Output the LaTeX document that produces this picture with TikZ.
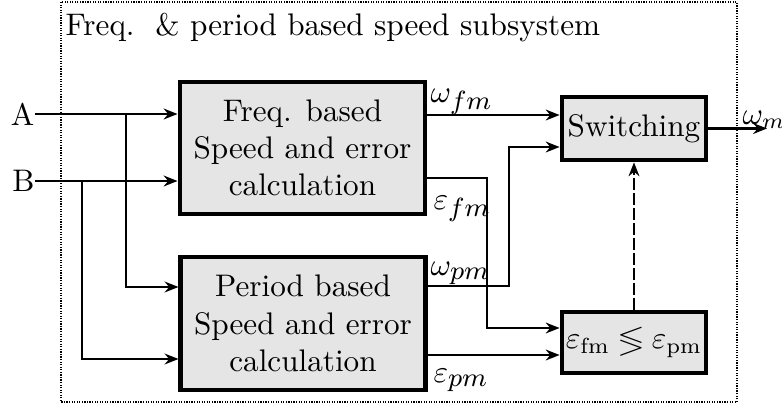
\RequirePackage{fix-cm}
\documentclass[tikz,border=0pt]{standalone}
\usepackage{amssymb}
\usetikzlibrary{arrows.meta}
\newcommand{\bigsub}[1]{\hbox{\fontsize{8.8pt}{9pt}\selectfont$#1$}}
\begin{document}
\begin{tikzpicture}[x=0.3333pt,y=-0.3333pt,
  font=\fontsize{10.4pt}{12.4pt}\selectfont,
  blk/.style={draw,line width=1.6pt,fill=black!10,align=center,inner sep=0pt},
  wire/.style={line width=0.8pt},
  arr/.style={wire,-{Stealth[length=4.6pt,width=3.6pt]}},
  lbl/.style={inner sep=0pt,anchor=base west}]
\useasboundingbox (0,0) rectangle (782,408);
% outer dotted frame
\draw[line width=0.9pt,dash pattern=on 0.4pt off 0.45pt] (61,2) rectangle (737,402);
\node[lbl] (title) at (65,35) {Freq.\ \ \& period based speed subsystem};
% blocks
\node[blk,minimum width=81.7pt,minimum height=44pt] (freq) at (302.5,148) {Freq. based\\Speed and error\\calculation};
\node[blk,minimum width=81.4pt,minimum height=44.3pt] (per) at (303,323.5) {Period based\\Speed and error\\calculation};
\node[blk,minimum width=48pt,minimum height=21pt] (sw) at (634,128.5) {Switching};
\node[blk,minimum width=48pt,minimum height=20.3pt] (cmp) at (634,342.5) {$\varepsilon_{\mathrm{fm}}\lessgtr\varepsilon_{\mathrm{pm}}$};
% inputs
\node[inner sep=0pt,anchor=east] (A) at (35,114) {A};
\node[inner sep=0pt,anchor=east] (B) at (35,181) {B};
\coordinate (ja) at (126,114);
\coordinate (jb) at (82,181);
\coordinate (pa) at (0,287);
\coordinate (pb) at (0,359);
\draw[arr] (A.east) -- (A.east -| freq.west);
\draw[arr] (B.east) -- (B.east -| freq.west);
\draw[arr] (ja) |- (pa -| per.west);
\draw[arr] (jb) |- (pb -| per.west);
% outputs of freq block
\coordinate (wf) at (0,115);
\coordinate (ef) at (0,178);
\coordinate (xe) at (487,0);
\coordinate (ec) at (0,328);
\draw[arr] (wf -| freq.east) -- (wf -| sw.west);
\draw[arr] (ef -| freq.east) -| (xe |- ec) -- (ec -| cmp.west);
% outputs of period block
\coordinate (wp) at (0,286);
\coordinate (xw) at (509,0);
\coordinate (ws) at (0,147);
\coordinate (ep) at (0,355);
\draw[arr] (wp -| per.east) -| (xw |- ws) -- (ws -| sw.west);
\draw[arr] (ep -| per.east) -- (ep -| cmp.west);
% switching output and control
\coordinate (out) at (767,0);
\draw[arr] (sw.east) -- (sw.east -| out);
\draw[arr,dash pattern=on 4pt off 1pt] (cmp.north) -- (sw.south);
% labels
\node[lbl] (lwf) at (430,102) {$\omega_{\bigsub{fm}}$};
\node[lbl] (lef) at (433,209) {$\varepsilon_{\bigsub{fm}}$};
\node[lbl] (lwp) at (430,275) {$\omega_{\bigsub{pm}}$};
\node[lbl] (lep) at (433,382) {$\varepsilon_{\bigsub{pm}}$};
\node[lbl] (lwm) at (742,124) {$\omega_m$};
\end{tikzpicture}
\end{document}
